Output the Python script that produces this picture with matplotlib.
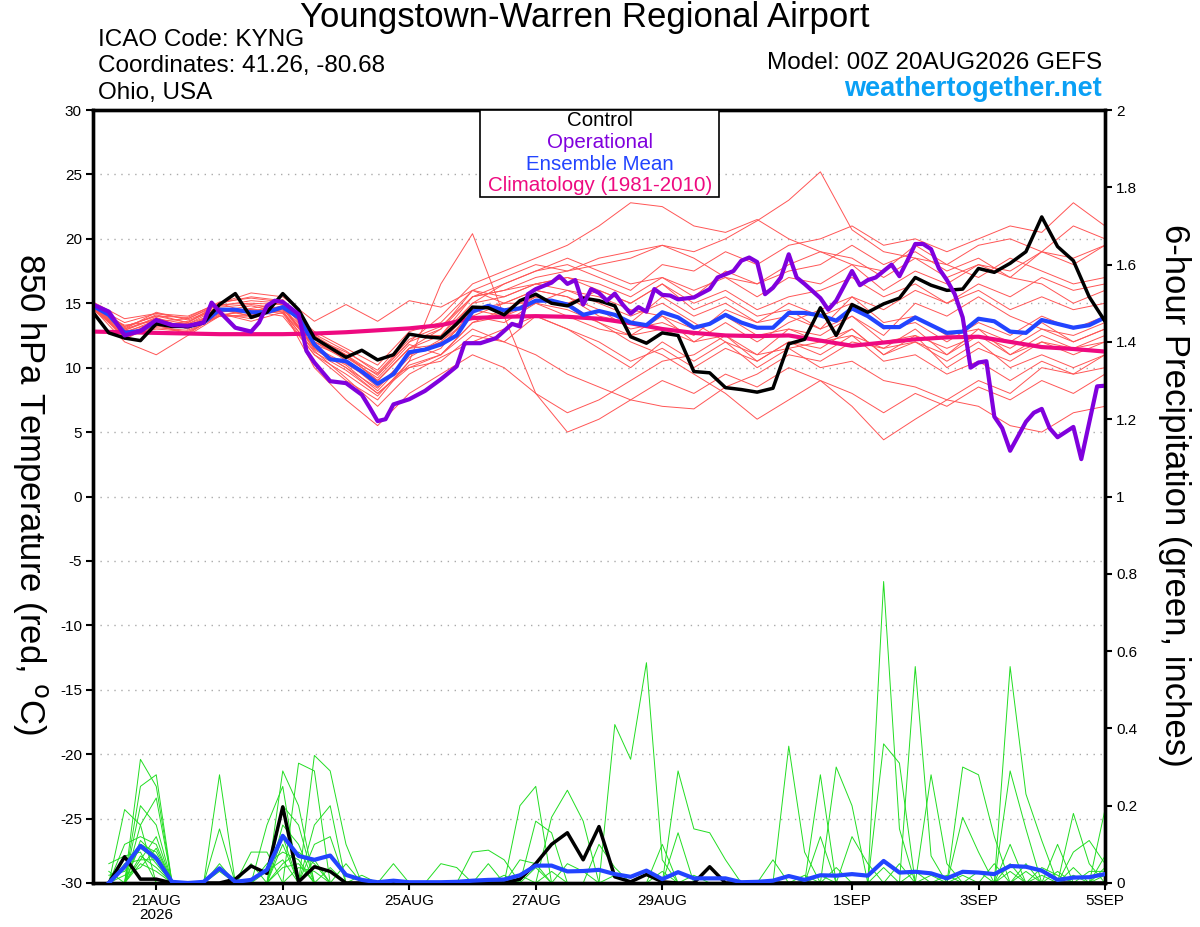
import numpy as np
import matplotlib.pyplot as plt
from matplotlib.patches import Rectangle

plt.rcParams['font.family'] = ['Liberation Sans', 'DejaVu Sans']

# time axis: days after 00Z 20AUG2026
tick_days = [1, 3, 5, 7, 9, 12, 14, 16]
tick_labels = ['21AUG\n2026', '23AUG', '25AUG', '27AUG', '29AUG', '1SEP', '3SEP', '5SEP']

# 850 hPa temperature, 6-hourly (65 values)
ctrl_temp = [14.3, 12.7, 12.3, 12.1, 13.4, 13.2, 13.2, 13.5, 14.9, 15.75, 13.9, 14.3, 15.75,
             14.5, 12.3, 11.55, 10.8, 11.35, 10.6, 11.0, 12.6, 12.4, 12.3,
             13.4, 14.7, 14.65, 14.1, 15.2, 15.7, 15.0, 14.8, 15.4, 15.2, 14.8, 12.4, 11.9,
             12.7, 12.5, 9.7, 9.6, 8.45, 8.3, 8.1, 8.4,
             11.85, 12.2, 14.65, 12.5, 14.9, 14.3, 14.95, 15.4, 17.0, 16.4, 16.0, 16.1,
             17.7, 17.4, 18.1, 19.0, 21.7, 19.4, 18.3, 15.5, 13.6]
mean_temp = [14.8, 14.1, 12.7, 12.85, 13.6, 13.3, 13.2, 13.5, 14.5, 14.5, 14.3, 14.3, 14.7,
             13.9, 11.8, 10.65, 10.5, 9.7, 8.75, 9.5, 11.2, 11.4, 11.8,
             12.5, 14.35, 14.8, 14.45, 14.6, 15.2, 15.2, 14.9, 14.1, 14.4, 14.1, 13.5, 13.3,
             14.3, 13.9, 13.1, 13.4, 14.1, 13.5, 13.1, 13.1,
             14.25, 14.25, 14.05, 13.65, 14.6, 14.0, 13.15, 13.15, 13.9, 13.3, 12.7, 12.8,
             13.8, 13.6, 12.8, 12.7, 13.7, 13.4, 13.1, 13.3, 13.9]

# operational run, irregular steps (units of 6 h)
op_steps = [0, 1, 2, 3, 4, 5, 6, 7, 7.5, 8, 9, 10, 10.5, 11, 11.5, 12, 13, 13.5, 14, 15, 16,
            17, 17.5, 18, 18.5, 19, 20, 21, 22, 23, 23.5, 24.5, 25.5, 26.5, 27, 27.5, 28,
            29, 29.5, 30, 30.5, 31, 31.5, 32, 32.5, 33, 33.5, 34, 34.5, 35, 35.5, 36, 36.5,
            37, 38, 39, 39.5, 40.5, 41, 41.5, 42, 42.5, 43, 43.5, 44, 44.5, 45, 46, 46.5,
            47, 48, 48.5, 49, 49.5, 50.5, 51, 51.5, 52, 52.5, 53, 53.5, 54, 54.5, 55, 55.5,
            56, 56.5, 57, 57.5, 58, 59, 59.5, 60, 60.5, 61, 62, 62.5, 63.5, 64]
op_temp = [14.9, 14.35, 12.5, 12.85, 13.7, 13.3, 13.25, 13.5, 15.05, 14.35, 13.1, 12.8, 13.5,
           14.8, 15.2, 15.1, 14.15, 11.3, 10.4, 8.95, 8.8, 7.9, 6.9, 5.85, 6.0, 7.15, 7.55,
           8.2, 9.1, 10.1, 11.9, 11.9, 12.3, 13.4, 13.2, 15.7, 16.1, 16.6, 17.1, 16.5, 16.8,
           14.9, 16.1, 15.8, 15.2, 15.75, 14.9, 14.2, 14.7, 14.35, 16.1, 15.65, 15.6, 15.3,
           15.45, 16.1, 17.0, 17.5, 18.3, 18.55, 18.2, 15.7, 16.2, 17.0, 18.8, 17.0, 16.5,
           15.4, 14.5, 15.2, 17.5, 16.4, 16.8, 17.0, 18.0, 17.1, 18.3, 19.6, 19.6, 19.2,
           17.7, 16.8, 15.7, 13.9, 10.0, 10.4, 10.5, 6.2, 5.3, 3.55, 5.8, 6.5, 6.8, 5.3,
           4.6, 5.4, 2.9, 8.55, 8.6]

# climatology 1981-2010, 12-hourly
clim_temp = [12.8, 12.75, 12.7, 12.65, 12.6, 12.6, 12.6, 12.65, 12.75, 12.9, 13.05, 13.3,
             13.85, 13.95, 14.0, 13.95, 13.8, 13.45, 13.0, 12.7, 12.5, 12.45, 12.5, 12.1,
             11.7, 11.95, 12.2, 12.35, 12.4, 12.0, 11.6, 11.45, 11.25]

# ensemble members, 12-hourly
member_temp = [
    [15.0, 13.2, 14.0, 13.5, 14.8, 15.2, 15.0, 12.5, 11.0, 9.0, 11.5, 13.0, 15.5, 16.0, 17.0, 17.5, 18.0,
     18.5, 19.5, 19.0, 20.0, 21.4, 23.0, 25.2, 20.7, 19.0, 18.5, 17.0, 18.0, 17.5, 19.0, 18.5, 19.5],
    [15.1, 13.8, 14.2, 14.0, 15.0, 15.5, 15.2, 12.0, 10.8, 9.5, 12.0, 14.0, 16.5, 17.5, 18.5, 19.5, 21.0,
     22.8, 22.5, 21.0, 20.5, 21.5, 20.0, 19.0, 18.0, 17.5, 19.5, 18.0, 17.0, 18.5, 17.5, 16.5, 17.0],
    [14.5, 12.5, 13.0, 12.8, 14.0, 14.5, 14.2, 11.0, 9.0, 7.5, 10.5, 16.5, 20.4, 14.0, 8.0, 6.5, 7.5,
     9.0, 10.5, 11.0, 12.5, 10.5, 12.0, 11.5, 13.0, 11.0, 12.5, 10.0, 11.5, 10.5, 12.0, 11.0, 12.0],
    [14.8, 13.5, 14.2, 13.8, 15.0, 15.8, 15.5, 13.6, 14.9, 13.6, 15.2, 14.7, 16.0, 15.5, 16.5, 17.0, 16.0,
     15.0, 16.5, 15.0, 16.0, 14.5, 15.5, 16.0, 17.0, 15.5, 16.5, 15.0, 16.0, 14.5, 15.5, 14.5, 15.0],
    [14.6, 12.0, 11.0, 12.5, 14.0, 14.0, 14.5, 10.0, 7.5, 5.5, 8.0, 9.5, 11.0, 10.0, 8.0, 5.0, 6.0,
     7.5, 9.0, 8.0, 9.5, 8.5, 10.0, 9.0, 8.0, 6.5, 8.0, 7.0, 8.5, 7.5, 9.0, 8.0, 9.5],
    [15.0, 13.0, 13.8, 13.0, 14.5, 14.0, 14.8, 11.5, 10.0, 8.0, 10.0, 11.0, 13.5, 14.0, 15.5, 15.0, 13.5,
     12.0, 11.0, 9.5, 8.0, 6.0, 7.5, 9.0, 7.0, 4.4, 6.0, 7.5, 9.0, 8.0, 10.0, 9.5, 11.0],
    [14.9, 12.8, 13.5, 13.4, 14.3, 14.6, 15.0, 12.0, 11.0, 9.0, 11.5, 12.5, 15.0, 16.5, 17.5, 18.0, 17.0,
     16.0, 18.0, 17.5, 19.0, 18.0, 19.5, 20.0, 21.0, 19.5, 20.0, 19.0, 20.0, 21.0, 20.5, 22.8, 21.0],
    [14.7, 12.4, 13.2, 13.6, 14.6, 14.0, 15.2, 12.5, 10.5, 8.5, 11.0, 12.0, 14.0, 13.5, 15.0, 14.0, 13.0,
     12.5, 14.0, 12.0, 13.5, 12.0, 13.5, 14.5, 15.5, 13.5, 14.0, 12.5, 13.0, 11.0, 12.5, 11.5, 12.5],
    [14.5, 12.9, 13.9, 13.0, 14.4, 14.8, 14.3, 11.8, 10.8, 9.2, 11.8, 11.0, 13.0, 12.0, 14.0, 13.0, 11.5,
     10.0, 12.0, 10.5, 12.0, 10.0, 11.5, 12.0, 13.0, 11.0, 12.0, 10.5, 12.0, 10.0, 11.0, 10.0, 11.0],
    [15.0, 13.1, 14.1, 13.5, 15.0, 14.2, 15.3, 12.3, 11.2, 9.8, 12.5, 12.5, 15.5, 16.0, 16.5, 17.0, 16.5,
     15.5, 17.0, 16.0, 17.0, 15.5, 17.0, 16.5, 18.0, 16.0, 17.5, 16.5, 18.0, 17.0, 19.0, 18.0, 19.5],
    [14.6, 12.6, 13.3, 12.7, 14.1, 14.4, 14.0, 11.0, 9.5, 7.8, 10.5, 11.5, 14.5, 15.0, 16.0, 15.5, 14.5,
     13.0, 13.5, 12.5, 14.5, 13.5, 15.0, 14.0, 15.0, 13.0, 13.5, 12.0, 13.5, 12.5, 14.0, 13.0, 14.0],
    [14.8, 12.2, 13.4, 13.3, 14.2, 13.8, 14.6, 11.5, 10.2, 8.2, 10.8, 12.2, 15.0, 15.5, 16.5, 16.0, 15.0,
     14.0, 15.0, 13.5, 12.0, 11.0, 13.0, 12.5, 14.0, 12.5, 15.0, 14.0, 15.5, 14.0, 13.0, 12.5, 13.5],
    [14.9, 12.7, 13.7, 13.1, 14.5, 14.2, 14.7, 11.6, 10.3, 8.8, 10.0, 10.5, 12.5, 12.0, 11.0, 9.5, 8.5,
     7.5, 7.0, 6.8, 8.5, 9.5, 11.0, 10.5, 12.0, 11.5, 13.0, 11.0, 12.5, 11.5, 13.0, 12.0, 13.0],
    [15.1, 13.0, 14.3, 13.7, 14.7, 14.9, 14.6, 12.2, 11.0, 9.4, 12.0, 13.0, 16.0, 17.0, 18.0, 17.5, 18.5,
     19.0, 19.5, 18.5, 17.0, 16.5, 18.0, 19.0, 18.5, 17.0, 18.5, 18.0, 19.5, 20.0, 19.0, 21.0, 20.0],
    [14.7, 12.5, 13.1, 12.9, 14.0, 14.1, 14.4, 11.2, 9.8, 8.0, 10.2, 11.0, 13.5, 14.5, 15.5, 15.0, 16.0,
     15.0, 16.5, 14.5, 15.5, 14.0, 14.5, 13.0, 14.0, 12.0, 12.5, 11.5, 12.5, 11.0, 12.0, 11.5, 12.0],
    [14.5, 13.3, 13.6, 13.8, 14.9, 15.0, 14.9, 12.8, 11.5, 10.2, 12.8, 13.5, 16.0, 15.0, 16.0, 15.5, 14.0,
     13.5, 15.5, 14.0, 15.0, 13.5, 14.0, 13.0, 15.5, 14.5, 16.0, 15.0, 16.5, 15.5, 17.0, 16.0, 16.5],
    [14.8, 12.6, 13.5, 13.2, 14.4, 14.3, 14.8, 11.4, 10.0, 8.4, 11.0, 12.0, 14.5, 14.0, 15.0, 14.5, 13.5,
     12.5, 13.0, 12.0, 12.5, 11.0, 11.5, 10.0, 10.5, 9.0, 8.5, 7.5, 7.0, 5.5, 5.0, 6.5, 7.0],
    [14.6, 12.9, 13.8, 13.4, 14.6, 14.5, 14.5, 12.0, 10.6, 9.0, 11.5, 11.8, 14.0, 15.0, 15.0, 16.0, 15.5,
     14.5, 14.0, 13.0, 14.0, 12.5, 13.0, 12.0, 12.5, 11.5, 12.0, 11.0, 13.0, 12.0, 13.5, 12.0, 13.0],
    [15.0, 12.3, 13.3, 12.6, 14.2, 13.6, 14.3, 11.3, 9.2, 7.0, 9.5, 10.8, 12.0, 13.0, 14.0, 13.0, 12.0,
     10.5, 11.5, 10.0, 11.5, 10.5, 12.0, 11.0, 12.5, 10.5, 11.0, 9.5, 10.5, 9.0, 10.5, 9.5, 10.0],
    [14.9, 13.2, 14.0, 13.9, 15.1, 15.4, 15.1, 12.6, 11.3, 9.6, 12.2, 13.2, 15.5, 16.5, 17.5, 18.5, 17.5,
     16.5, 17.0, 15.5, 17.5, 16.5, 17.5, 18.0, 19.5, 18.0, 19.0, 17.5, 18.5, 17.0, 16.5, 15.0, 16.0],
]

# 6-hour precipitation (inches), steps 1..64
ctrl_precip = [0, .068, .01, .01, 0, 0, 0, 0, .01, .044, .025, .197, .003, .042, .03, 0,
               0, 0, 0, 0, 0, 0, 0, 0, 0, 0, .01, .05, .10, .13, .06, .146,
               .016, .003, .022, .003, 0, 0, .042, 0, 0, 0, 0, 0, 0, 0, 0, 0,
               0, 0, 0, 0, 0, 0, 0, 0, 0, 0, 0, 0, 0, 0, 0, 0]
mean_precip = [0, .042, .096, .064, .003, 0, .003, .038, .003, .008, .034, .122, .07, .06, .071, .021,
               .008, .002, .006, .002, .002, .002, .003, .006, .008, .009, .02, .045, .045, .03, .031, .034,
               .023, .016, .032, .01, .028, .012, .012, .012, .002, .003, .006, .018, .008, .02, .019, .023,
               .019, .057, .027, .029, .025, .012, .029, .027, .023, .044, .042, .032, .008, .014, .015, .023]
# members: {step: inches}, steps not listed are dry
member_precip = [
    {3: .32, 4: .25, 12: .1, 27: .2, 28: .25, 33: .41, 34: .32, 35: .57, 36: .06, 50: .78, 51: .14, 58: .1},
    {2: .19, 3: .15, 8: .28, 13: .31, 14: .29, 37: .29, 38: .14, 39: .13, 40: .06, 52: .56, 53: .07, 62: .18, 63: .05},
    {3: .25, 4: .28, 12: .29, 13: .2, 29: .17, 30: .24, 31: .16, 44: .354, 45: .08, 58: .56, 59: .23, 60: .11},
    {3: .2, 4: .15, 14: .33, 15: .29, 16: .1, 28: .16, 29: .13, 46: .28, 50: .36, 51: .31, 55: .3, 56: .28, 57: .12},
    {2: .1, 3: .12, 4: .1, 11: .15, 12: .25, 24: .08, 25: .085, 26: .06, 47: .3, 48: .2, 64: .19},
    {3: .1, 4: .08, 8: .14, 12: .2, 13: .15, 32: .1, 33: .04, 37: .13, 48: .12, 49: .05, 58: .29, 59: .14},
    {1: .05, 2: .07, 3: .08, 14: .15, 15: .2, 27: .06, 28: .05, 46: .12, 55: .17, 56: .08, 61: .1},
    {2: .05, 3: .06, 4: .06, 12: .15, 13: .1, 22: .05, 23: .04, 36: .1, 53: .28, 54: .05, 62: .08, 63: .11, 64: .05},
    {3: .15, 4: .22, 10: .08, 11: .08, 14: .1, 15: .12, 25: .05, 43: .06, 59: .05, 64: .07},
    {1: .03, 3: .05, 4: .03, 8: .05, 12: .12, 16: .05, 19: .05, 30: .05, 31: .03, 56: .03, 60: .04, 61: .02},
    {2: .04, 3: .1, 4: .05, 11: .05, 12: .08, 13: .06, 28: .04, 45: .02, 51: .05, 58: .05, 63: .03, 64: .03},
    {3: .07, 4: .04, 10: .05, 14: .06, 29: .03, 47: .04, 52: .03, 57: .05, 62: .04},
    {1: .02, 2: .03, 3: .09, 4: .06, 8: .03, 13: .04, 14: .03, 27: .02, 54: .02, 59: .03, 64: .02},
    {3: .06, 4: .12, 12: .05, 13: .08, 14: .05, 17: .02, 33: .02, 50: .04, 58: .03, 62: .02},
    {2: .02, 3: .04, 4: .09, 11: .03, 12: .06, 15: .04, 36: .03, 44: .02, 55: .02, 60: .02, 64: .04},
    {3: .11, 4: .07, 12: .04, 13: .05, 26: .02, 38: .02, 46: .02, 53: .02, 61: .03},
]

t6 = np.arange(len(ctrl_temp)) * 0.25
t12 = np.arange(len(clim_temp)) * 0.5
tp = np.arange(1, len(ctrl_precip) + 1) * 0.25
t_op = np.array(op_steps) * 0.25

fig = plt.figure(figsize=(12, 9.27), dpi=100)
ax = fig.add_axes([93/1200, 44/927, 1012/1200, 773/927])
ax2 = ax.twinx()

for m in member_temp:
    ax.plot(t12, m, color='#ff5555', lw=0.7, zorder=2)
ax.plot(t12, clim_temp, color='#ee0a80', lw=3, zorder=4)
ax.plot(t6, mean_temp, color='#2244ff', lw=3, zorder=5)
ax.plot(t6, ctrl_temp, color='black', lw=2.5, zorder=6)
ax.plot(t_op, op_temp, color='#8000dd', lw=3, zorder=7)

for m in member_precip:
    vals = [m.get(i, 0) for i in range(1, len(ctrl_precip) + 1)]
    ax2.plot(tp, vals, color='#22dd22', lw=0.7, zorder=2)
ax2.plot(tp, ctrl_precip, color='black', lw=2.5, zorder=4)
ax2.plot(tp, mean_precip, color='#2244ff', lw=3, zorder=5)

ax.set_xlim(0, 16)
ax.set_ylim(-30, 30)
ax2.set_ylim(0, 2)
ax.set_yticks(range(-30, 31, 5))
ax.set_yticklabels([str(v) for v in range(-30, 31, 5)], fontsize=11)
rt = np.arange(0, 2.01, 0.2)
ax2.set_yticks(rt)
ax2.set_yticklabels([f'{v:g}' for v in rt], fontsize=11)
ax.set_xticks(tick_days)
ax.set_xticklabels(tick_labels, fontsize=11, linespacing=1.0)
ax.grid(axis='y', color='#aaaaaa', linestyle=(0, (1, 4)), lw=1)
ax.set_axisbelow(True)
for a in (ax, ax2):
    a.tick_params(direction='out', length=5, width=1.5, pad=3)
    for s in a.spines.values():
        s.set_linewidth(2.4)

# legend box
ax2.add_patch(Rectangle((0.382, 0.887), 0.237, 0.113, transform=ax2.transAxes,
                        facecolor='white', edgecolor='black', lw=1.2, zorder=10))
leg = [('Control', 'black'), ('Operational', '#8000dd'),
       ('Ensemble Mean', '#2244ff'), ('Climatology (1981-2010)', '#ee0a80')]
for j, (txt, c) in enumerate(leg):
    fig.text(600/1200, 1 - (121 + 21.5*j)/927, txt, color=c, fontsize=14.8,
             ha='center', va='center', zorder=11)

fig.text(585/1200, 1 - 18/927, 'Youngstown-Warren Regional Airport', fontsize=25,
         ha='center', va='center')
fig.text(98/1200, 1 - 40/927, 'ICAO Code: KYNG', fontsize=17.5, ha='left', va='center')
fig.text(98/1200, 1 - 66/927, 'Coordinates: 41.26, -80.68', fontsize=17.5, ha='left', va='center')
fig.text(98/1200, 1 - 93/927, 'Ohio, USA', fontsize=17.5, ha='left', va='center')
fig.text(1102/1200, 1 - 63/927, 'Model: 00Z 20AUG2026 GEFS', fontsize=17.5, ha='right', va='center')
fig.text(1102/1200, 1 - 89/927, 'weathertogether.net', fontsize=19.5, fontweight='bold',
         color='#0aa0f5', ha='right', va='center')
fig.text(30/1200, 1 - 494/927, '850 hPa Temperature (red, $^\\mathrm{o}$C)', fontsize=25,
         rotation=270, ha='center', va='center')
fig.text(1175/1200, 1 - 495/927, '6-hour Precipitation (green, inches)', fontsize=25,
         rotation=270, ha='center', va='center')

fig.savefig('out.png', dpi=100)
